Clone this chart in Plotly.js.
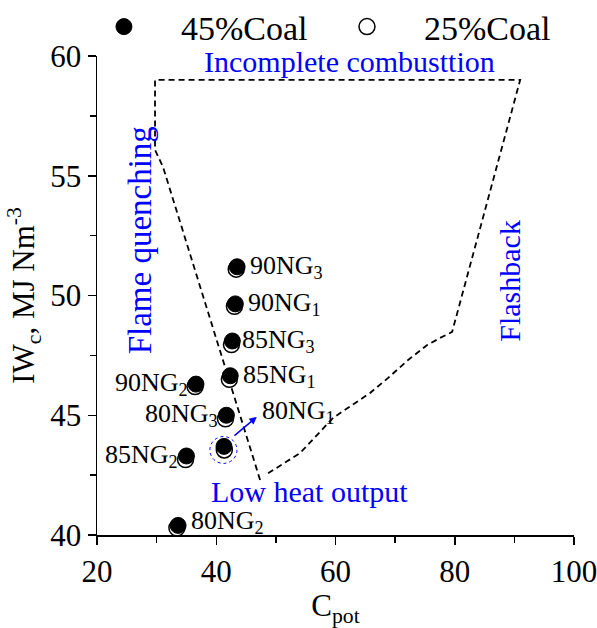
<!DOCTYPE html>
<html>
<head>
<meta charset="utf-8">
<script src="https://cdn.plot.ly/plotly-3.0.1.min.js"></script>
<style>html,body{margin:0;padding:0;background:#fff;}#chart{width:597px;height:628px;}</style>
</head>
<body>
<div id="chart"></div>
<script>
// ---- data ----
const pointNames = ["90NG<sub>3</sub>","90NG<sub>1</sub>","85NG<sub>3</sub>","85NG<sub>1</sub>","90NG<sub>2</sub>","80NG<sub>3</sub>","80NG<sub>1</sub>","85NG<sub>2</sub>","80NG<sub>2</sub>"];
const coal45X = [43.5, 43.2, 42.7, 42.35, 36.6, 41.7, 41.3, 35.0, 33.6];
const coal45Y = [51.2, 49.65, 48.1, 46.65, 46.3, 45.0, 43.7, 43.3, 40.4];
const coal25X = [43.35, 43.05, 42.55, 42.2, 36.45, 41.55, 41.35, 34.85, 33.4];
const coal25Y = [51.1, 49.55, 47.95, 46.5, 46.2, 44.85, 43.55, 43.15, 40.3];
const labelSide = ["right","right","right","right","left","left","arrow","left","right"];

// operating-window boundary (dashed)
const boundX = [47.35, 31.07, 29.73, 29.73, 90.97, 90.6, 79.56, 77.55, 75.37, 72.18, 68.83, 65.8, 59.6, 54.06, 48.19];
const boundY = [42.3, 55.37, 56.08, 59.0, 59.0, 58.66, 48.48, 48.23, 47.93, 47.31, 46.56, 45.93, 44.89, 43.42, 42.5];

// region labels
const regionText = ["Incomplete combusttion","Low heat output","Flame quenching","Flashback"];
const regionX = [62.3, 55.7, 27.2, 89.2];
const regionY = [59.75, 41.8, 52.3, 50.6];
const regionAngle = [0, 0, -90, -90];
const regionSize = [30, 30, 33, 30];

// highlight circle & arrow for 80NG1
const highlightCenter = [41.2, 43.55];
const highlightRadius = [2.27, 0.56];
const arrowTail = [42.8, 44.1];
const arrowTip = [46.8, 44.93];

const FONT = 'Liberation Serif, Times New Roman, serif';

const traces = [
  {x: boundX, y: boundY, mode: 'lines', line: {color: '#000', width: 1.8, dash: '6px,4px'}, showlegend: false, hoverinfo: 'skip'},
  {x: coal25X, y: coal25Y, mode: 'markers', name: '25%Coal', legend: 'legend2',
   marker: {symbol: 'circle', size: 16, color: '#fff', line: {color: '#000', width: 1.5}}},
  {x: coal45X, y: coal45Y, mode: 'markers', name: '45%Coal', legend: 'legend',
   marker: {symbol: 'circle', size: 16, color: '#000', line: {color: '#000', width: 1}}}
];

const annotations = [];
pointNames.forEach((n, i) => {
  const side = labelSide[i];
  if (side === 'arrow') {
    annotations.push({x: arrowTip[0], y: arrowTip[1], text: n, showarrow: false, xanchor: 'left', yanchor: 'middle', xshift: 3, yshift: 5,
      font: {family: FONT, size: 26, color: '#000'}});
  } else {
    annotations.push({x: coal45X[i], y: coal45Y[i], text: n, showarrow: false,
      xanchor: side === 'right' ? 'left' : 'right', yanchor: 'middle',
      xshift: side === 'right' ? (i === 2 ? 8 : 11) : -6, yshift: i === 8 ? 3 : 0,
      font: {family: FONT, size: 26, color: '#000'}});
  }
});
regionText.forEach((t, i) => {
  annotations.push({x: regionX[i], y: regionY[i], text: t, showarrow: false, textangle: regionAngle[i],
    xanchor: 'center', yanchor: 'middle', font: {family: FONT, size: regionSize[i], color: '#0000ff'}});
});
annotations.push({x: arrowTip[0], y: arrowTip[1], ax: arrowTail[0], ay: arrowTail[1], axref: 'x', ayref: 'y', xref: 'x', yref: 'y',
  text: '', showarrow: true, arrowhead: 2, arrowsize: 1, arrowwidth: 1.5, arrowcolor: '#0000ff'});

const legendCommon = {orientation: 'h', yanchor: 'middle', y: 1.0605, xanchor: 'left', itemwidth: 104,
  font: {family: FONT, size: 34, color: '#000'}, bgcolor: 'rgba(0,0,0,0)', borderwidth: 0};

const layout = {
  width: 597, height: 628,
  margin: {l: 97, r: 23, t: 56, b: 93, autoexpand: false},
  paper_bgcolor: '#fff', plot_bgcolor: '#fff',
  font: {family: FONT, size: 31, color: '#000'},
  showlegend: true,
  legend: Object.assign({}, legendCommon, {x: -0.063}),
  legend2: Object.assign({}, legendCommon, {x: 0.4465}),
  xaxis: {range: [20, 100], tickvals: [20, 40, 60, 80, 100], ticks: 'outside', ticklen: 8, tickwidth: 1.5, tickcolor: '#000',
    minor: {tickvals: [30, 50, 70, 90], ticks: 'outside', ticklen: 6, tickwidth: 1.5, tickcolor: '#000'},
    showline: true, linecolor: '#000', linewidth: 1.5, showgrid: false, zeroline: false,
    ticklabeloverflow: 'allow',
    tickfont: {family: FONT, size: 31, color: '#000'},
    title: {text: 'C<sub>pot</sub>', font: {family: FONT, size: 31, color: '#000'}, standoff: 6}},
  yaxis: {range: [40, 60], tickvals: [40, 45, 50, 55, 60], ticks: 'outside', ticklen: 8, tickwidth: 1.5, tickcolor: '#000',
    minor: {tickvals: [42.5, 47.5, 52.5, 57.5], ticks: 'outside', ticklen: 6, tickwidth: 1.5, tickcolor: '#000'},
    showline: true, linecolor: '#000', linewidth: 1.5, showgrid: false, zeroline: false,
    ticklabeloverflow: 'allow',
    tickfont: {family: FONT, size: 31, color: '#000'},
    title: {text: 'IW<sub>c</sub>, MJ Nm<sup>-3</sup>', font: {family: FONT, size: 31, color: '#000'}, standoff: 6}},
  shapes: [{type: 'circle', xref: 'x', yref: 'y',
    x0: highlightCenter[0] - highlightRadius[0], x1: highlightCenter[0] + highlightRadius[0],
    y0: highlightCenter[1] - highlightRadius[1], y1: highlightCenter[1] + highlightRadius[1],
    line: {color: '#0000ff', width: 1, dash: 'dot'}}],
  annotations: annotations
};

Plotly.newPlot('chart', traces, layout, {displayModeBar: false, staticPlot: true});
</script>
</body>
</html>
